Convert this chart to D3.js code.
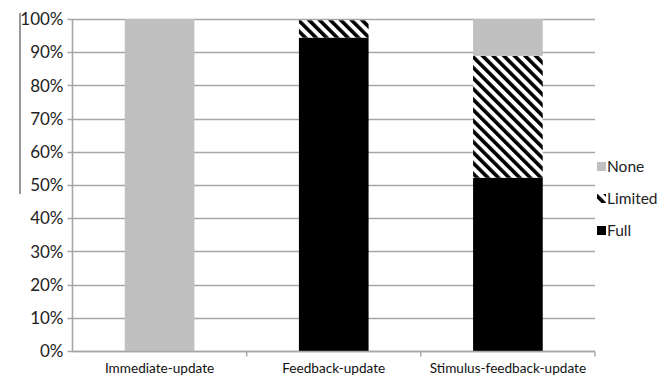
<!DOCTYPE html>
<html>
<head>
<meta charset="utf-8">
<script src="https://cdn.jsdelivr.net/npm/d3@7"></script>
<style>
  html, body { margin: 0; padding: 0; background: #fff; }
  svg { display: block; font-family: Lato, "Open Sans", sans-serif; }
</style>
</head>
<body>
<svg id="chart" width="666" height="378"></svg>
<script>
// Conditions along the x axis
const categories = ["Immediate-update", "Feedback-update", "Stimulus-feedback-update"];
// Percentage of participants per level of updating
const fullValues    = [0, 94.4, 52.2];
const limitedValues = [0, 5.2, 36.7];
const noneValues    = [100, 0, 11.1];
const seriesNames = ["Full", "Limited", "None"];
const yTicks = [0, 10, 20, 30, 40, 50, 60, 70, 80, 90, 100];

const svg = d3.select("#chart");
const margin = { left: 72.5, right: 71, top: 19, bottom: 27 };
const W = 666, H = 378;

// Diagonal stripe pattern for "Limited"
const defs = svg.append("defs");
const pat = defs.append("pattern")
  .attr("id", "stripes")
  .attr("patternUnits", "userSpaceOnUse")
  .attr("width", 7.5).attr("height", 7.5)
  .attr("patternTransform", "rotate(-45)");
pat.append("rect").attr("width", 7.5).attr("height", 7.5).attr("fill", "#fff");
pat.append("rect").attr("x", 0).attr("width", 3.6).attr("height", 7.5).attr("fill", "#000");

const fills = { Full: "#000", Limited: "url(#stripes)", None: "#c0c0c0" };

const x = d3.scaleBand().domain(categories)
  .range([margin.left, W - margin.right]).paddingInner(0.6).paddingOuter(0.3);
const xOuter = d3.scaleBand().domain(categories)
  .range([margin.left, W - margin.right]).padding(0);
const y = d3.scaleLinear().domain([0, 100]).range([H - margin.bottom, margin.top]);

// Gridlines
svg.append("g").selectAll("line").data(yTicks).join("line")
  .attr("x1", margin.left - 5).attr("x2", W - margin.right)
  .attr("y1", d => Math.round(y(d)) + 0.5).attr("y2", d => Math.round(y(d)) + 0.5)
  .attr("stroke", "#a6a6a6").attr("stroke-width", 1.6);

// Y tick labels
svg.append("g").selectAll("text").data(yTicks).join("text")
  .attr("x", margin.left - 9).attr("y", d => y(d))
  .attr("dy", "0.36em").attr("text-anchor", "end")
  .attr("font-size", 17).attr("fill", "#222")
  .text(d => d + "%");

// Y axis line
svg.append("line")
  .attr("x1", margin.left).attr("x2", margin.left)
  .attr("y1", y(100)).attr("y2", y(0))
  .attr("stroke", "#a6a6a6").attr("stroke-width", 1.6);

// Stacked bars
const rows = categories.map((c, i) => ({ cat: c, Full: fullValues[i], Limited: limitedValues[i], None: noneValues[i] }));
const stacked = d3.stack().keys(seriesNames)(rows);
svg.append("g").selectAll("g").data(stacked).join("g")
  .attr("fill", d => fills[d.key])
  .selectAll("rect").data(d => d).join("rect")
  .attr("x", d => x(d.data.cat))
  .attr("width", x.bandwidth())
  .attr("y", d => y(d[1]))
  .attr("height", d => y(d[0]) - y(d[1]));

// X axis line and ticks
const baseY = Math.round(y(0)) + 0.5;
svg.append("line")
  .attr("x1", margin.left).attr("x2", W - margin.right)
  .attr("y1", baseY).attr("y2", baseY)
  .attr("stroke", "#a6a6a6").attr("stroke-width", 1.6);
svg.append("g").selectAll("line").data(categories).join("line")
  .attr("x1", d => xOuter(d) + xOuter.bandwidth()).attr("x2", d => xOuter(d) + xOuter.bandwidth())
  .attr("y1", baseY).attr("y2", baseY + 5)
  .attr("stroke", "#a6a6a6").attr("stroke-width", 1.4);

// Category labels
svg.append("g").selectAll("text").data(categories).join("text")
  .attr("x", d => xOuter(d) + xOuter.bandwidth() / 2)
  .attr("y", H - 5)
  .attr("text-anchor", "middle").attr("font-size", 13.6).attr("fill", "#111")
  .text(d => d);

// Legend (top to bottom: None, Limited, Full)
const legendItems = ["None", "Limited", "Full"];
const lg = svg.append("g").selectAll("g").data(legendItems).join("g")
  .attr("transform", (d, i) => `translate(597, ${166.5 + i * 32})`);
lg.append("rect").attr("x", 0).attr("y", -4.5).attr("width", 9).attr("height", 9)
  .attr("fill", d => fills[d]);
lg.append("text").attr("x", 10).attr("dy", "0.36em")
  .attr("font-size", 15.5).attr("fill", "#222").text(d => d);

// Thin vertical rule at the far left
svg.append("line")
  .attr("x1", 20).attr("x2", 20).attr("y1", 13).attr("y2", 194)
  .attr("stroke", "#555").attr("stroke-width", 1.2);
</script>
</body>
</html>
